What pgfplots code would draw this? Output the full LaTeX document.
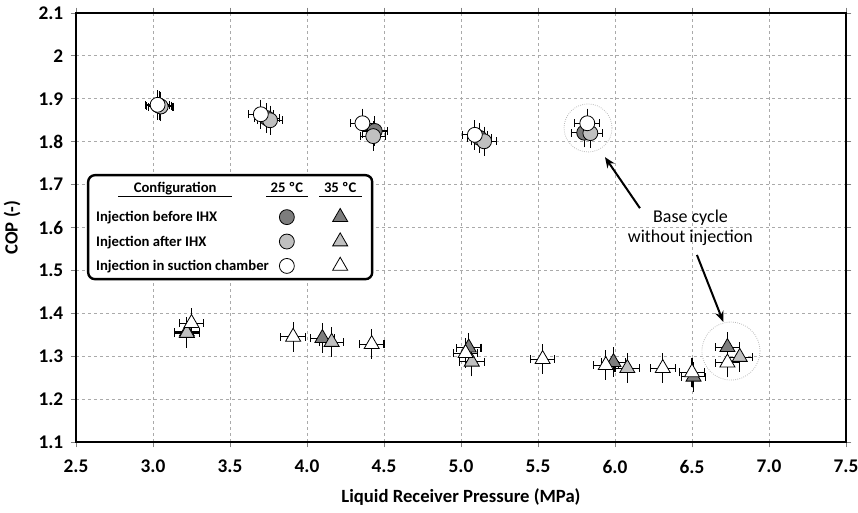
\documentclass[border=0pt]{standalone}
\usepackage{fontspec}
\setmainfont{Carlito}
\usepackage{pgfplots}
\usepackage{pgfplotstable}
\pgfplotsset{compat=1.18}
\usetikzlibrary{arrows.meta}

\definecolor{darkfill}{RGB}{125,125,125}
\definecolor{midfill}{RGB}{192,192,192}
\definecolor{gridc}{RGB}{170,170,170}

% 25 C, circles
\pgfplotstableread{
x y
3.04 1.884
3.74 1.855
4.44 1.825
5.12 1.809
5.80 1.821
}\cirDark
\pgfplotstableread{
x y
3.05 1.882
3.76 1.850
4.43 1.813
5.15 1.801
5.84 1.820
}\cirMid
\pgfplotstableread{
x y
3.03 1.886
3.70 1.864
4.36 1.843
5.09 1.816
5.82 1.843
}\cirWhite
% 35 C, triangles
\pgfplotstableread{
x y
3.22 1.357
4.10 1.342
5.05 1.320
5.99 1.286
6.51 1.252
6.73 1.321
}\triDark
\pgfplotstableread{
x y
3.22 1.354
4.16 1.333
5.07 1.287
6.08 1.272
6.81 1.298
}\triMid
\pgfplotstableread{
x y
3.25 1.377
3.91 1.345
4.42 1.328
5.03 1.307
5.53 1.293
5.94 1.279
6.31 1.272
6.50 1.262
6.73 1.285
}\triWhite

\pgfplotsset{
  circ/.style={only marks, mark=*, mark size=5.6pt,
    mark options={draw=black, line width=0.6pt, fill=#1, solid, sharp corners}},
  tri/.style={only marks, mark=triangle*, mark size=6.5pt,
    mark options={draw=black, line width=0.6pt, fill=#1, solid, sharp corners}},
  ebarx/.style={draw=none, mark=none, forget plot,
    error bars/x dir=both, error bars/x fixed=0.08,
    error bars/error bar style={draw=black, line width=0.8pt, solid},
    error bars/error mark options={draw=black, line width=0.8pt, mark size=3pt, solid, rotate=90}},
  ebary/.style={draw=none, mark=none, forget plot,
    error bars/y dir=both, error bars/y fixed=0.025,
    error bars/error bar style={draw=black, line width=0.8pt, solid},
    error bars/error mark options={draw=black, line width=0.8pt, mark size=3pt, solid}},
  legmark/.style={legend image code/.code={%
    \path (0pt,-#1) (30pt,11pt);
    \draw[##1] plot coordinates {(15pt,3.5pt)};}},
  legmark/.default=5.5pt,
  leghead/.style={legend image code/.code={%
    \path (0pt,-9.5pt) (30pt,9.75pt);
    \node[anchor=base, inner sep=0pt, font=\bfseries\fontsize{11}{13}\selectfont] at (15pt,0pt) {#1};
    \path[fill=black, draw=none, sharp corners] (-1pt,-3.6pt) rectangle (31pt,-3pt);}},
}

\begin{document}
\begin{tikzpicture}
\begin{axis}[
  scale only axis, width=577.5pt, height=321.75pt,
  xmin=2.5, xmax=7.5, ymin=1.1, ymax=2.1,
  xtick={2.5,3.0,3.5,4.0,4.5,5.0,5.5,6.0,6.5,7.0,7.5},
  xticklabels={2.5,3.0,3.5,4.0,4.5,5.0,5.5,6.0,6.5,7.0,7.5},
  ytick={1.1,1.2,1.3,1.4,1.5,1.6,1.7,1.8,1.9,2.0,2.1},
  yticklabels={1.1,1.2,1.3,1.4,1.5,1.6,1.7,1.8,1.9,2,2.1},
  grid=major,
  major grid style={gridc, dash pattern=on 2.5pt off 2pt, line width=0.6pt},
  axis line style={line width=1.8pt},
  tick align=outside, major tick length=4pt,
  tick style={gray, line width=0.6pt},
  tick label style={font=\bfseries\fontsize{14.5}{16}\selectfont},
  xticklabel style={yshift=-6pt},
  yticklabel style={xshift=-2pt},
  xlabel={Liquid Receiver Pressure (MPa)},
  ylabel={COP (-)},
  label style={font=\bfseries\fontsize{14}{16}\selectfont},
  xlabel style={at={(axis description cs:0.5,-0.128)}, anchor=center},
  ylabel style={at={(axis description cs:-0.083,0.5)}, anchor=center},
  legend columns=3,
  legend style={at={(axis cs:2.5714,1.7247)}, anchor=north west,
    draw=black, line width=1.8pt, rounded corners=5pt, fill=white,
    inner xsep=2pt, inner ysep=2pt, column sep=2pt, row sep=0pt,
    font=\bfseries\fontsize{11}{13}\selectfont,
    cells={anchor=base west, inner sep=0pt}},
]
% legend (table layout)
\addlegendimage{empty legend}
\addlegendentry{\makebox[123pt][l]{\hspace*{16.5pt}\makebox[85.5pt]{Configuration}\llap{\rule[-3.6pt]{85.5pt}{0.6pt}}}}
\addlegendimage{leghead={25 ºC}}
\addlegendentry{\mbox{}}
\addlegendimage{leghead={35 ºC}}
\addlegendentry{\mbox{}}
\addlegendimage{empty legend}
\addlegendentry{\makebox[123pt][l]{Injection before IHX}}
\addlegendimage{circ=darkfill, legmark}
\addlegendentry{\mbox{}}
\addlegendimage{tri=darkfill, legmark}
\addlegendentry{\mbox{}}
\addlegendimage{empty legend}
\addlegendentry{\makebox[123pt][l]{Injection after IHX}}
\addlegendimage{circ=midfill, legmark}
\addlegendentry{\mbox{}}
\addlegendimage{tri=midfill, legmark}
\addlegendentry{\mbox{}}
\addlegendimage{empty legend}
\addlegendentry{\makebox[123pt][l]{Injection in suction chamber}}
\addlegendimage{circ=white, legmark=3.5pt}
\addlegendentry{\mbox{}}
\addlegendimage{tri=white, legmark=3.5pt}
\addlegendentry{\mbox{}}

% annotation circles
\draw[gray!55, densely dotted, line width=0.6pt] (axis cs:5.825,1.832) circle[radius=18pt];
\draw[gray!55, densely dotted, line width=0.6pt] (axis cs:6.753,1.312) circle[radius=21.75pt];

% error bars
\addplot[ebarx] table {\cirDark};
\addplot[ebary] table {\cirDark};
\addplot[ebarx] table {\cirMid};
\addplot[ebary] table {\cirMid};
\addplot[ebarx] table {\cirWhite};
\addplot[ebary] table {\cirWhite};
\addplot[ebarx] table {\triDark};
\addplot[ebary] table {\triDark};
\addplot[ebarx] table {\triMid};
\addplot[ebary] table {\triMid};
\addplot[ebarx] table {\triWhite};
\addplot[ebary] table {\triWhite};
% markers
\addplot[circ=darkfill, forget plot] table {\cirDark};
\addplot[circ=midfill, forget plot] table {\cirMid};
\addplot[circ=white, forget plot] table {\cirWhite};
\addplot[tri=darkfill, forget plot] table {\triDark};
\addplot[tri=midfill, forget plot] table {\triMid};
\addplot[tri=white, forget plot] table {\triWhite};

% annotation
\node[align=center, font=\fontsize{13.5}{15}\selectfont] at (axis cs:6.49,1.599) {Base cycle\\without injection};
\draw[-{Stealth[length=8pt,width=6.5pt]}, line width=1.5pt] (axis cs:6.162,1.645) -- (axis cs:5.935,1.764);
\draw[-{Stealth[length=8pt,width=6.5pt]}, line width=1.5pt] (axis cs:6.532,1.536) -- (axis cs:6.703,1.380);
\end{axis}
\pgfresetboundingbox
\path (current axis.south west) ++(-57pt,-53.25pt) (current axis.north east) ++(9pt,9.75pt);
\end{tikzpicture}
\end{document}
